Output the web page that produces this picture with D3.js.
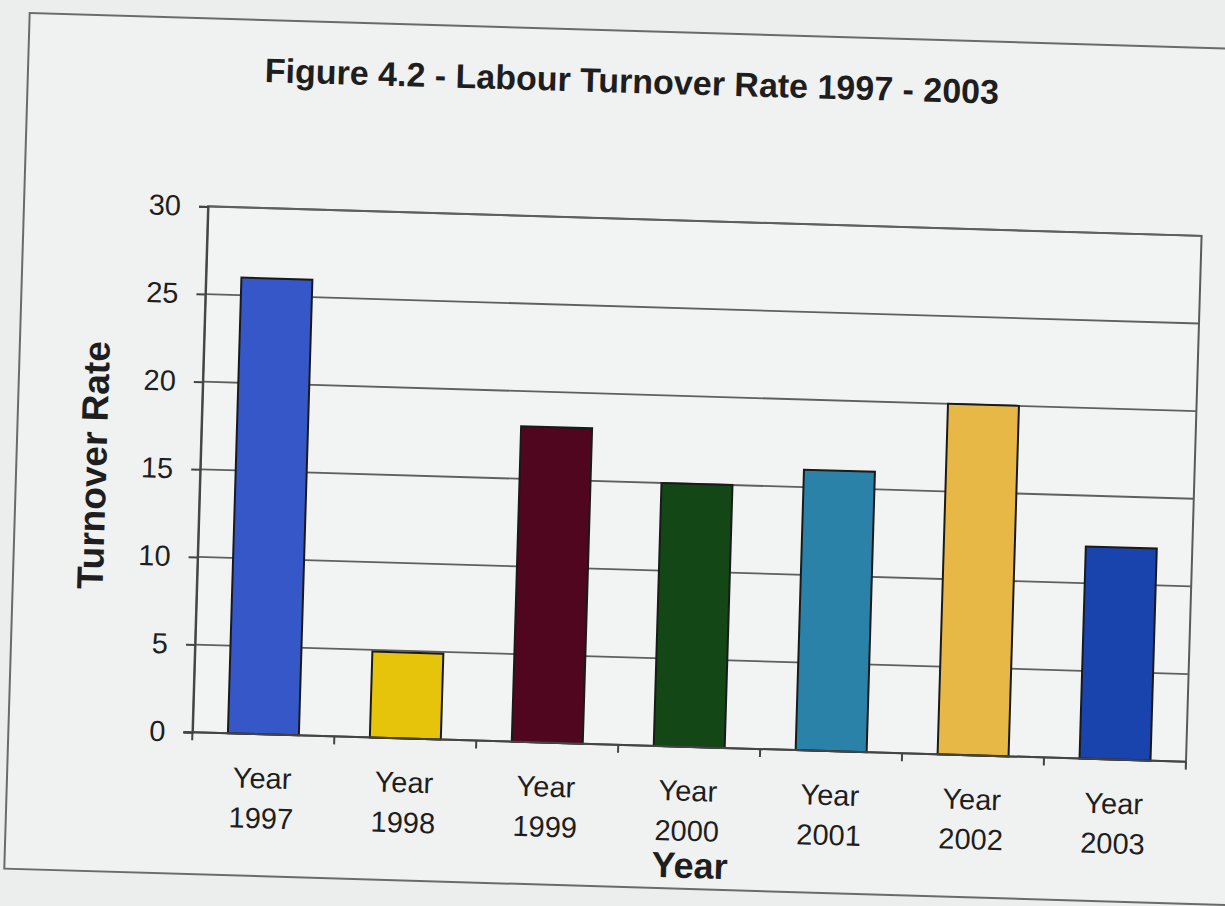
<!DOCTYPE html>
<html>
<head>
<meta charset="utf-8">
<script src="https://cdn.jsdelivr.net/npm/d3@7"></script>
<style>
  body { margin: 0; background: #eceeed; }
  text { font-family: "Liberation Sans", Arial, sans-serif; fill: #1e1e1e; }
</style>
</head>
<body>
<div id="container"></div>
<script>
let w = 1225;
let h = 906;

// data
let years = ["1997", "1998", "1999", "2000", "2001", "2002", "2003"];
let rates = [26.0, 4.9, 18.0, 15.0, 16.0, 20.0, 12.1];
let barColors = ["#3557c8", "#e6c40c", "#50061e", "#134716", "#2a82a8", "#e7b846", "#1944ae"];
let yTicks = [0, 5, 10, 15, 20, 25, 30];

// plot area (unrotated frame)
let plotLeft = 200, plotRight = 1194, plotTop = 221, plotBottom = 747;

let viz = d3.select("#container").append("svg")
    .attr("width", w)
    .attr("height", h)
    .style("background-color", "#eceeed");

// the scan is tilted a little clockwise
let g = viz.append("g").attr("transform", "rotate(1.7,696,484)");

// outer chart frame
g.append("rect")
  .attr("x", 16).attr("y", 33)
  .attr("width", 1240).attr("height", 856)
  .attr("fill", "#f0f1f1")
  .attr("stroke", "#6a6a6a")
  .attr("stroke-width", 2);

let x = d3.scaleBand().domain(years).range([plotLeft, plotRight]).paddingInner(0.5).paddingOuter(0.25);
let y = d3.scaleLinear().domain([0, 30]).range([plotBottom, plotTop]);

// plot area
g.append("rect")
  .attr("x", plotLeft).attr("y", plotTop)
  .attr("width", plotRight - plotLeft).attr("height", plotBottom - plotTop)
  .attr("fill", "#f2f3f3")
  .attr("stroke", "#5a5a5a")
  .attr("stroke-width", 2);

// gridlines
g.selectAll(".grid").data(yTicks.filter(d => d > 0)).enter()
  .append("line")
    .attr("class", "grid")
    .attr("x1", plotLeft).attr("x2", plotRight)
    .attr("y1", d => y(d)).attr("y2", d => y(d))
    .attr("stroke", "#5f5f5f")
    .attr("stroke-width", 1.8);

// bars
g.selectAll(".bar").data(rates).enter()
  .append("rect")
    .attr("class", "bar")
    .attr("x", (d, i) => x(years[i]))
    .attr("y", d => y(d))
    .attr("width", x.bandwidth())
    .attr("height", d => y(0) - y(d))
    .attr("fill", (d, i) => barColors[i])
    .attr("stroke", "#1a1a1a")
    .attr("stroke-width", 2);

// y axis
let yAxis = g.append("g")
  .attr("transform", "translate(" + plotLeft + ",0)")
  .call(d3.axisLeft(y).tickValues(yTicks).tickSize(9).tickPadding(18));
yAxis.select(".domain").attr("stroke", "#444").attr("stroke-width", 2);
yAxis.selectAll(".tick line").attr("stroke", "#444").attr("stroke-width", 2);
yAxis.selectAll(".tick text")
  .style("font-size", "29px")
  .style("font-family", "'Liberation Sans', Arial, sans-serif")
  .attr("fill", "#1e1e1e");

// x baseline and tick marks between categories
g.append("line")
  .attr("x1", plotLeft - 9).attr("x2", plotRight)
  .attr("y1", plotBottom).attr("y2", plotBottom)
  .attr("stroke", "#444").attr("stroke-width", 2);

let bounds = years.map(d => x(d) - x.step() * 0.25).concat([plotRight]);
g.selectAll(".xtick").data(bounds).enter()
  .append("line")
    .attr("class", "xtick")
    .attr("x1", d => d).attr("x2", d => d)
    .attr("y1", plotBottom).attr("y2", plotBottom + 8)
    .attr("stroke", "#444").attr("stroke-width", 2);

// category labels (two lines)
let labels = g.selectAll(".xlabel").data(years).enter()
  .append("text")
    .attr("class", "xlabel")
    .attr("text-anchor", "middle")
    .style("font-size", "29px");
labels.append("tspan")
  .attr("x", d => x(d) + x.bandwidth() / 2)
  .attr("y", 801)
  .text("Year");
labels.append("tspan")
  .attr("x", d => x(d) + x.bandwidth() / 2)
  .attr("y", 841)
  .text(d => d);

// titles
g.append("text")
  .attr("x", 620).attr("y", 95)
  .attr("text-anchor", "middle")
  .style("font-size", "34px")
  .style("font-weight", "bold")
  .text("Figure 4.2 - Labour Turnover Rate 1997 - 2003");

g.append("text")
  .attr("transform", "translate(106,483) rotate(-90)")
  .attr("text-anchor", "middle")
  .style("font-size", "37px")
  .style("font-weight", "bold")
  .text("Turnover Rate");

g.append("text")
  .attr("x", 701).attr("y", 878)
  .attr("text-anchor", "middle")
  .style("font-size", "36px")
  .style("font-weight", "bold")
  .text("Year");
</script>
</body>
</html>
